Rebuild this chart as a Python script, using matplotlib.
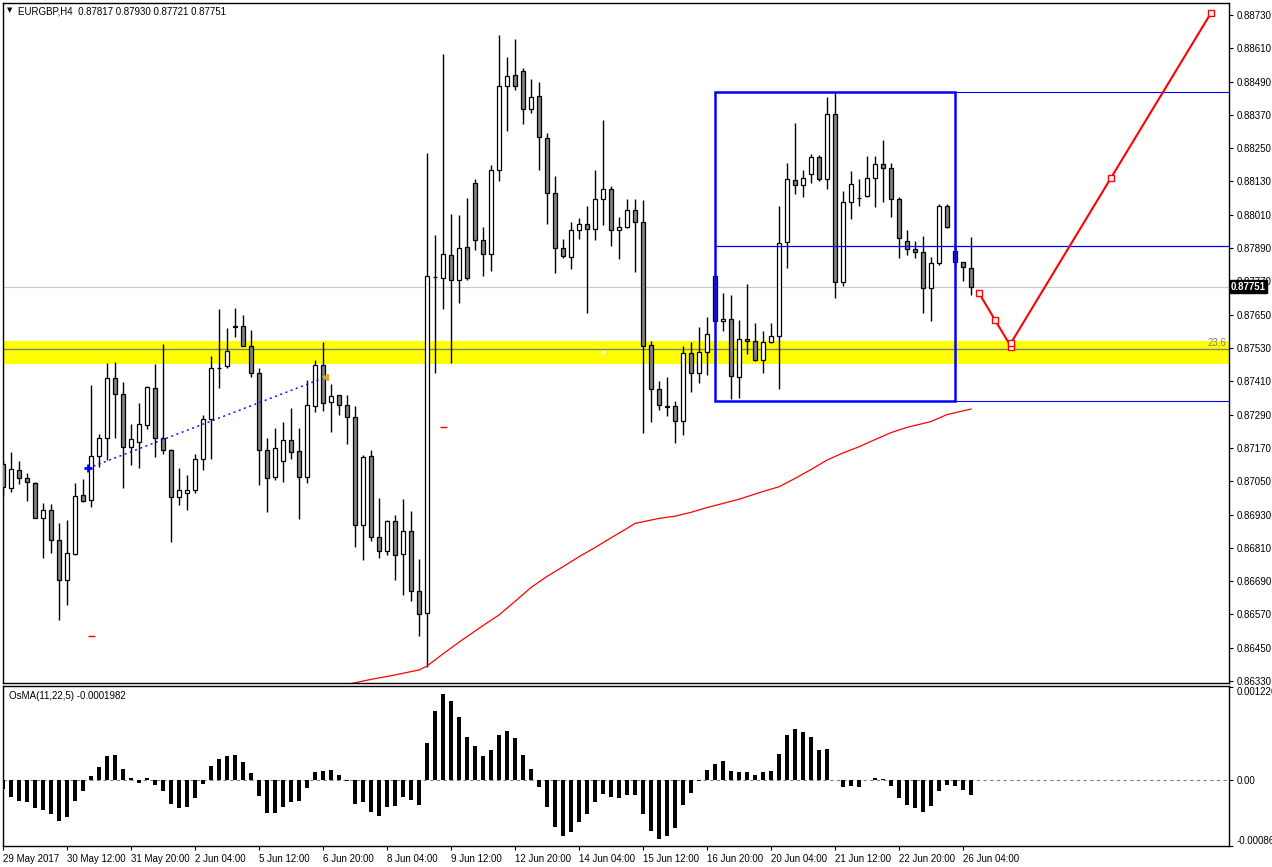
import numpy as np
import matplotlib.pyplot as plt
from matplotlib.patches import Rectangle

plt.rcParams['font.family'] = ['Liberation Sans', 'DejaVu Sans']

# EURGBP H4 candles, prices in points (1 point = 0.00001)
opens = [87112, 87024, 87089, 87060, 87042, 86916, 86945, 86837, 86693, 86789,
         86999, 86981, 87140, 87205, 87421, 87363, 87172, 87190, 87251, 87385,
         87205, 87161, 86992, 87006, 87017, 87129, 87273, 87459, 87464, 87608,
         87608, 87536, 87439, 87161, 87064, 87122, 87197, 87158, 87064, 87320,
         87468, 87334, 87360, 87324, 87280, 86891, 87140, 86848, 86797, 86906,
         86787, 86869, 86653, 86574, 87787, 87781, 87864, 87774, 87893, 88124,
         87918, 87868, 88170, 88473, 88513, 88527, 88390, 88437, 88286, 88088,
         87889, 87857, 87954, 87976, 87958, 88066, 88102, 87954, 87965, 88026,
         87983, 87540, 87381, 87321, 87320, 87266, 87511, 87439, 87515, 87788,
         87626, 87633, 87424, 87561, 87554, 87486, 87551, 87572, 87911, 88134,
         88116, 88156, 88217, 88138, 88372, 87767, 88055, 88072, 88077, 88142,
         88192, 88178, 88066, 87915, 87886, 87875, 87745, 87835, 88041, 87878,
         87839, 87817]
highs = [87126, 87155, 87122, 87080, 87046, 86971, 86968, 86899, 86910, 87044,
         87058, 87397, 87220, 87477, 87480, 87408, 87256, 87332, 87392, 87472,
         87544, 87165, 87098, 87072, 87148, 87289, 87501, 87670, 87602, 87674,
         87649, 87595, 87457, 87205, 87242, 87263, 87314, 87242, 87415, 87486,
         87552, 87400, 87360, 87360, 87321, 87143, 87161, 86990, 86909, 86927,
         86985, 86942, 86769, 88233, 87937, 88590, 88013, 88009, 88071, 88139,
         87965, 88188, 88658, 88579, 88642, 88538, 88498, 88488, 88304, 88149,
         87922, 87983, 87997, 88041, 88170, 88351, 88113, 88001, 88066, 88066,
         88062, 87554, 87411, 87426, 87338, 87536, 87551, 87605, 87641, 87790,
         87728, 87721, 87630, 87761, 87619, 87590, 87619, 88041, 88197, 88340,
         88170, 88228, 88224, 88433, 88448, 88095, 88167, 88138, 88221, 88221,
         88279, 88196, 88073, 87954, 87915, 87933, 87857, 88048, 88048, 87901,
         87841, 87930]
lows = [86997, 87012, 87039, 86980, 86916, 86774, 86792, 86551, 86605, 86785,
        86974, 86958, 87100, 87126, 87207, 87027, 87110, 87099, 87239, 87138,
        87149, 86832, 86965, 86947, 87009, 87092, 87131, 87387, 87457, 87571,
        87536, 87427, 87037, 86938, 87055, 87048, 87131, 86915, 87045, 87300,
        87304, 87226, 87289, 87183, 86814, 86767, 86836, 86774, 86785, 86695,
        86641, 86619, 86493, 86382, 87439, 87669, 87475, 87691, 87775, 87882,
        87788, 87806, 88131, 88311, 88459, 88336, 88376, 88170, 87976, 87799,
        87853, 87814, 87922, 87657, 87918, 87972, 87897, 87850, 87961, 87803,
        87223, 87262, 87307, 87286, 87189, 87218, 87373, 87403, 87432, 87622,
        87592, 87345, 87351, 87507, 87484, 87439, 87547, 87383, 87817, 88084,
        88073, 88124, 88131, 88102, 87710, 87752, 87994, 88041, 88073, 88037,
        88055, 88001, 87853, 87864, 87853, 87655, 87628, 87828, 87961, 87826,
        87772, 87721]
closes = [87029, 87093, 87060, 87046, 86916, 86945, 86837, 86693, 86790, 86996,
          86978, 87140, 87205, 87421, 87363, 87172, 87201, 87255, 87388, 87205,
          87161, 86992, 87017, 87017, 87129, 87273, 87457, 87457, 87518, 87606,
          87536, 87439, 87161, 87060, 87169, 87197, 87154, 87064, 87324, 87468,
          87331, 87358, 87324, 87280, 86891, 87136, 86848, 86797, 86906, 86783,
          86869, 86653, 86570, 87788, 87785, 87868, 87774, 87889, 87781, 87918,
          87868, 88170, 88473, 88509, 88473, 88390, 88433, 88289, 88088, 87889,
          87860, 87954, 87976, 87958, 88066, 88102, 87954, 87965, 88026, 87983,
          87536, 87381, 87324, 87319, 87266, 87511, 87439, 87515, 87579, 87626,
          87633, 87428, 87561, 87554, 87486, 87551, 87572, 87907, 88138, 88116,
          88142, 88217, 88138, 88372, 87767, 88055, 88120, 88070, 88142, 88192,
          88178, 88066, 87925, 87886, 87875, 87745, 87835, 88041, 87967, 87839,
          87821, 87751]

# OsMA(11,22,5) histogram, units of 1e-6
osma = [-119, -220, -273, -286, -365, -392, -444, -537, -484, -273,
        -141, 53, 172, 317, 330, 145, 26, -44, 26, -62,
        -141, -312, -365, -352, -233, -48, 185, 277, 317, 330,
        238, 92, -207, -431, -431, -352, -286, -273, -101, 106,
        119, 132, 66, -13, -312, -286, -418, -471, -352, -339,
        -220, -260, -326, 488, 911, 1135, 1043, 832, 568, 449,
        317, 396, 594, 647, 554, 330, 145, -88, -352, -616,
        -735, -682, -550, -449, -286, -180, -220, -233, -194, -194,
        -444, -669, -774, -735, -629, -326, -167, -9, 132, 211,
        251, 119, 106, 106, 62, 106, 119, 343, 594, 673,
        634, 568, 396, 409, -4, -88, -75, -88, -4, 22,
        9, -75, -233, -326, -365, -418, -339, -141, -62, -75,
        -128, -198]

# long moving average (red), read at some bars
ma_idx = [43, 46, 49, 52, 53, 55, 57, 60, 62, 64, 66, 68, 70, 72, 74, 76, 78, 79,
          82, 84, 86, 88, 92, 95, 97, 99, 101, 103, 105, 107, 109, 111, 113,
          116, 118, 121]
ma_val = [86318, 86336, 86352, 86370, 86384, 86428, 86470, 86530, 86568, 86617,
          86667, 86707, 86742, 86778, 86811, 86846, 86880, 86898, 86916, 86924,
          86938, 86955, 86985, 87013, 87030, 87060, 87092, 87126, 87152, 87174,
          87200, 87225, 87244, 87265, 87290, 87310]

# projected path (red squares)
proj_idx = [122, 124, 126, 126, 138.5, 151]
proj_val = [87728, 87631, 87535, 87548, 88143, 88737]

date_labels = ['29 May 2017', '30 May 12:00', '31 May 20:00', '2 Jun 04:00',
               '5 Jun 12:00', '6 Jun 20:00', '8 Jun 04:00', '9 Jun 12:00',
               '12 Jun 20:00', '14 Jun 04:00', '15 Jun 12:00', '16 Jun 20:00',
               '20 Jun 04:00', '21 Jun 12:00', '22 Jun 20:00', '26 Jun 04:00']
price_ticks = [0.86330, 0.86450, 0.86570, 0.86690, 0.86810, 0.86930, 0.87050,
               0.87170, 0.87290, 0.87410, 0.87530, 0.87650, 0.87770, 0.87890,
               0.88010, 0.88130, 0.88250, 0.88370, 0.88490, 0.88610, 0.88730]

o = np.array(opens) / 1e5
h = np.array(highs) / 1e5
l = np.array(lows) / 1e5
c = np.array(closes) / 1e5
idx = np.arange(len(o))

W, H = 1272, 867
fig = plt.figure(figsize=(W / 100, H / 100), dpi=100)
fig.patch.set_facecolor('white')
ax = fig.add_axes([2.5 / W, 1 - 683 / H, 1226 / W, 680 / H])
ax2 = fig.add_axes([2.5 / W, 1 - 846 / H, 1226 / W, 160 / H], sharex=ax)

xmin, xmax = -0.0625, 153.19
ax.set_xlim(xmin, xmax)
ax.set_ylim(0.86323, 0.88773)

# zones and levels
ax.axhspan(0.87473, 0.87555, color='#ffff00', lw=0, zorder=0)
ax.axhline(0.87528, color='#808080', lw=1, zorder=0.5)
ax.plot(75, 0.87517, 's', color='white', ms=2, zorder=0.6)
ax.axhline(0.87751, color='#c8c8c8', lw=0.8, zorder=0.5)
ax.text(xmax - 0.3, 0.87530, '23,6', ha='right', va='bottom', color='#808080', fontsize=7)

# candles
up = c >= o
ax.vlines(idx, l, h, color='black', lw=1, zorder=2)
body_lo = np.minimum(o, c)
body_h = np.maximum(np.abs(c - o), 0.000012)
ax.bar(idx, body_h, bottom=body_lo, width=0.52,
       color=np.where(up, 'white', '#808080'), edgecolor='black', linewidth=0.9, zorder=3)

# moving average
ax.plot(ma_idx, np.array(ma_val) / 1e5, color='red', lw=0.9, zorder=2)

# blue box and lines
ax.add_patch(Rectangle((89, 0.87339), 30, 0.88453 - 0.87339, fill=False,
                       ec='#0000ff', lw=1.8, zorder=4))
ax.hlines([0.88453, 0.87339], 119, xmax, color='#0000ff', lw=0.8, zorder=4)
ax.hlines(0.87896, 89, xmax, color='#0000ff', lw=0.9, zorder=4)

# dotted trend line
ax.plot([10.66, 40.25], [0.87097, 0.87424], ls=(0, (1.5, 2.5)), color='#0000ff', lw=1, zorder=4)
ax.plot(10.66, 0.87097, '+', color='#0000ff', ms=6, mew=2, zorder=5)
ax.plot(40.25, 0.87424, '<', color='#daa520', ms=5, zorder=5)
ax.hlines(0.86492, 10.6, 11.5, color='red', lw=1)
ax.hlines(0.87244, 54.6, 55.5, color='red', lw=1)

# projection
ax.plot(proj_idx, np.array(proj_val) / 1e5, color='red', lw=1.5, marker='s', ms=4,
        mfc='white', mec='red', mew=1, zorder=6, clip_on=False)

# axes style
ax.yaxis.tick_right()
ax.set_yticks(price_ticks)
ax.set_yticklabels(['%.5f' % v for v in price_ticks])
ax.tick_params(axis='y', direction='out', length=3, labelsize=7, pad=3)
ax.tick_params(axis='x', bottom=False, labelbottom=False)
for s in ax.spines.values():
    s.set_linewidth(1)

ax.annotate('0.87751', xy=(1.0, 0.87751), xycoords=('axes fraction', 'data'),
            xytext=(1.8, 0), textcoords='offset points', ha='left', va='center',
            color='white', fontsize=7, fontweight='bold',
            bbox=dict(boxstyle='square,pad=0.15', fc='black', ec='black'), zorder=10,
            annotation_clip=False)

ax.text(0.004, 0.994, '\u25bc', transform=ax.transAxes, fontsize=5, va='top', ha='left',
        family='DejaVu Sans')
ax.text(0.0125, 0.995, 'EURGBP,H4  0.87817 0.87930 0.87721 0.87751',
        transform=ax.transAxes, fontsize=7, va='top', ha='left')

# OsMA panel
ax2.bar(idx, np.array(osma) / 1e6, width=0.38, color='black', zorder=3)
ax2.axhline(0, color='#808080', lw=0.8, ls=(0, (3, 3)), zorder=1)
ax2.set_ylim(-0.000871, 0.001241)
ax2.yaxis.tick_right()
ax2.set_yticks([-0.000867, 0, 0.001226])
ax2.set_yticklabels(['-0.000867', '0.00', '0.001226'])
ax2.tick_params(axis='y', direction='out', length=3, labelsize=7, pad=3)
labs = ax2.get_yticklabels()
labs[0].set_va('bottom')
labs[2].set_va('top')
ax2.set_xticks(idx[::8])
ax2.set_xticklabels(date_labels, ha='left')
ax2.tick_params(axis='x', direction='out', length=3, labelsize=7, pad=3)
for s in ax2.spines.values():
    s.set_linewidth(1)
ax2.text(0.005, 0.97, 'OsMA(11,22,5) -0.0001982', transform=ax2.transAxes,
         fontsize=7, va='top', ha='left')

fig.savefig('out.png', dpi=100)
